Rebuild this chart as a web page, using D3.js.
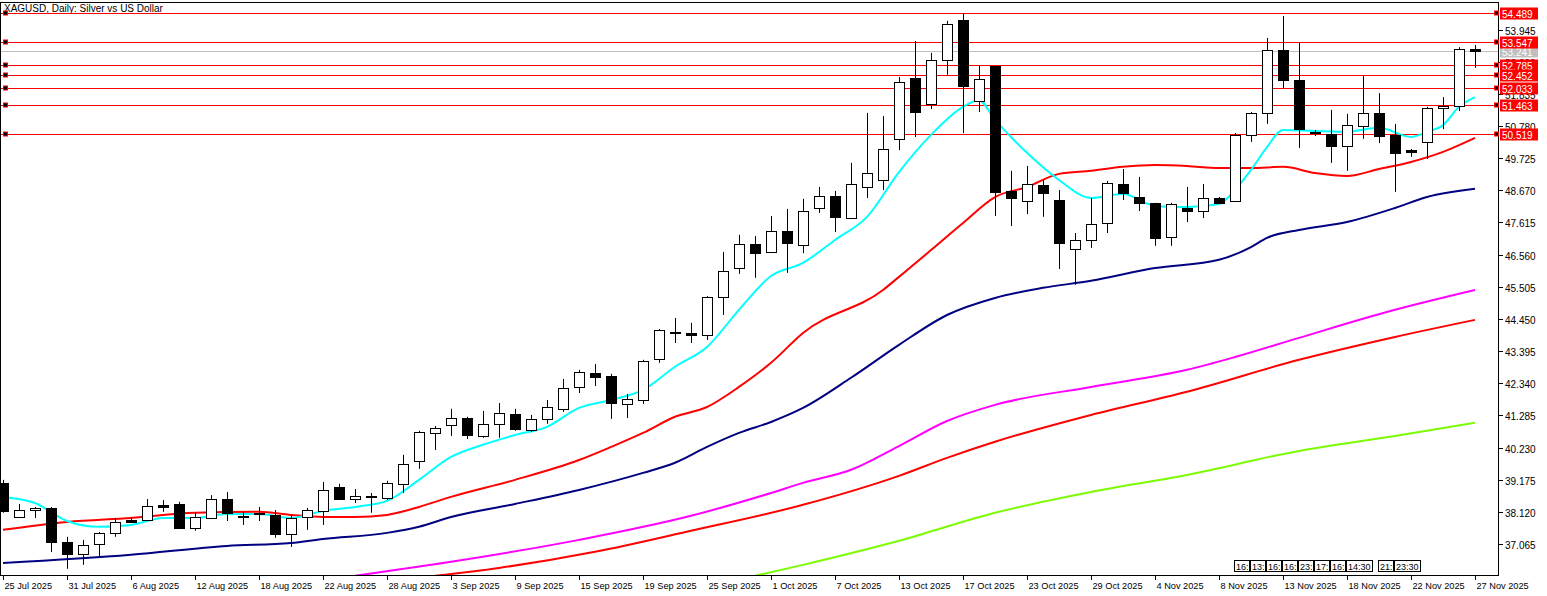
<!DOCTYPE html>
<html><head><meta charset="utf-8">
<script src="https://cdn.jsdelivr.net/npm/d3@7"></script>
<style>body{margin:0;background:#fff}svg{display:block}text{font-family:"Liberation Sans",Arial,sans-serif}</style>
</head><body><svg id="c" width="1547" height="596"></svg>
<script>
// OHLC per daily bar [open, high, low, close]
const ohlc = [
[39.07,39.17,38.09,38.15],[37.95,38.38,37.92,38.18],[38.18,38.28,37.92,38.25],[38.25,38.28,36.80,37.14],
[37.14,37.30,36.25,36.74],[36.74,37.20,36.38,37.04],[37.07,37.46,36.64,37.43],[37.43,37.92,37.30,37.79],
[37.86,37.95,37.79,37.79],[37.86,38.54,37.86,38.32],[38.35,38.51,38.12,38.28],[38.38,38.45,37.56,37.59],
[37.59,38.09,37.50,37.95],[37.92,38.67,37.92,38.54],[38.54,38.77,37.82,38.09],[37.99,38.12,37.69,37.99],
[38.09,38.28,37.82,38.05],[38.02,38.18,37.27,37.40],[37.40,38.02,36.97,37.92],[37.95,38.25,37.53,38.18],
[38.15,39.10,37.69,38.84],[38.94,39.04,38.54,38.54],[38.54,38.87,38.41,38.64],[38.61,38.74,38.09,38.63],
[38.58,39.14,38.51,39.07],[39.04,39.99,38.74,39.69],[39.79,40.78,39.53,40.74],[40.71,40.94,40.15,40.87],
[40.97,41.50,40.61,41.20],[41.20,41.24,40.51,40.64],[40.61,41.43,40.55,41.01],[41.01,41.69,40.55,41.37],
[41.33,41.50,40.78,40.84],[40.81,41.30,40.74,41.17],[41.17,41.79,41.01,41.56],[41.50,42.48,41.40,42.19],
[42.22,42.78,42.02,42.71],[42.68,42.97,42.25,42.55],[42.58,42.65,41.17,41.69],[41.66,41.99,41.20,41.83],
[41.79,43.11,41.66,43.07],[43.14,44.12,43.01,44.09],[44.02,44.48,43.66,44.01],[43.99,44.32,43.66,43.92],
[43.92,45.20,43.76,45.17],[45.17,46.65,44.58,46.03],[46.12,47.21,45.93,46.91],[46.91,47.17,45.80,46.61],
[46.65,47.83,46.65,47.34],[47.34,48.06,45.96,46.94],[46.88,48.39,46.61,47.99],[48.09,48.78,47.93,48.49],
[48.49,48.65,47.30,47.80],[47.76,49.57,47.76,48.88],[48.78,51.21,48.42,49.24],[49.01,51.11,48.68,50.03],
[50.36,52.39,49.99,52.23],[52.36,53.57,50.42,51.24],[51.50,53.18,51.34,52.95],[52.95,54.23,52.46,54.13],
[54.26,54.49,50.55,52.10],[51.60,52.75,51.24,52.32],[52.75,52.76,47.83,48.62],[48.65,49.31,47.50,48.42],
[48.32,49.47,47.89,48.88],[48.85,49.01,47.80,48.58],[48.35,48.68,46.09,46.94],[46.75,47.27,45.57,47.04],
[47.04,48.42,46.78,47.57],[47.60,48.98,47.27,48.91],[48.88,49.37,48.35,48.58],[48.45,49.11,47.99,48.26],
[48.26,48.26,46.85,47.11],[47.14,48.26,46.85,48.22],[48.09,48.78,47.63,47.99],[47.99,48.88,47.76,48.42],
[48.42,48.45,48.26,48.26],[48.32,50.55,48.29,50.49],[50.49,51.24,50.26,51.21],[51.21,53.67,50.85,53.28],
[53.28,54.39,52.03,52.29],[52.29,53.51,50.06,50.68],[50.59,50.65,50.45,50.55],[50.52,51.31,49.57,50.13],
[50.13,51.18,49.31,50.81],[50.78,52.42,50.36,51.21],[51.21,51.86,50.22,50.45],[50.49,50.85,48.62,49.90],
[49.99,50.03,49.77,49.93],[50.26,51.41,49.70,51.37],[51.37,51.73,50.68,51.44],[51.44,53.37,51.27,53.31],
[53.31,53.44,52.69,53.24]];

// Moving averages: [barIndex, value]
const maCyan = [[0,38.61],[2,38.41],[4,37.82],[6,37.63],[8,37.69],[10,37.92],[12,37.92],[14,38.05],[16,38.05],[18,37.92],[20,38.15],[22,38.28],[24,38.48],[26,39.17],[28,39.92],[30,40.32],[32,40.64],[34,40.91],[36,41.53],[38,41.79],[40,42.12],[42,42.88],[44,43.53],[46,44.75],[48,45.86],[50,46.29],[52,47.04],[54,47.80],[56,49.27],[58,50.49],[60,51.41],[61,51.63],[62,50.98],[63,50.42],[64,49.90],[66,49.01],[68,48.42],[70,48.55],[72,48.16],[74,48.12],[76,48.22],[77,48.68],[78,49.34],[79,50.09],[80,50.65],[82,50.62],[84,50.59],[86,50.72],[88,50.42],[89,50.59],[90,50.81],[91,51.41],[92,51.73]];
const maRed = [[0,37.53],[4,37.79],[8,37.92],[12,38.09],[16,38.12],[18,38.02],[20,37.95],[22,37.95],[24,38.02],[26,38.28],[28,38.61],[32,39.17],[36,39.82],[38,40.25],[40,40.71],[42,41.24],[44,41.56],[46,42.22],[48,43.01],[50,43.99],[55,45.40],[56,45.83],[58,46.71],[60,47.60],[62,48.45],[64,48.78],[66,49.21],[68,49.31],[70,49.44],[72,49.50],[74,49.47],[76,49.40],[78,49.40],[80,49.44],[82,49.24],[84,49.14],[86,49.37],[88,49.60],[90,49.93],[92,50.39]];
const maNavy = [[0,36.44],[8,36.71],[14,37.00],[18,37.10],[20,37.23],[24,37.43],[26,37.63],[28,37.95],[32,38.38],[36,38.84],[40,39.40],[42,39.73],[44,40.25],[46,40.71],[48,41.07],[50,41.53],[53,42.52],[56,43.60],[59,44.58],[62,45.14],[65,45.47],[68,45.70],[72,46.12],[76,46.39],[78,46.81],[79,47.11],[81,47.37],[84,47.63],[87,48.09],[89,48.45],[92,48.72]];
const maMagenta = [[22,36.02],[28,36.48],[36,37.20],[43,37.99],[48,38.74],[50,39.07],[53,39.50],[56,40.28],[59,41.10],[62,41.63],[68,42.22],[74,42.78],[77,43.20],[81,43.83],[87,44.75],[92,45.40]];
const maRed2 = [[27,36.02],[31,36.28],[37,36.81],[43,37.50],[50,38.35],[56,39.30],[59,39.89],[62,40.42],[68,41.30],[74,42.06],[81,43.11],[87,43.86],[92,44.42]];
const maGreen = [[47,36.02],[50,36.38],[56,37.17],[62,38.09],[68,38.77],[74,39.33],[81,40.12],[87,40.61],[92,41.04]];

const levels = [54.489,53.547,52.785,52.452,52.033,51.463,50.519];
const lastPrice = 53.241;
const priceTicks = [53.945,52.890,51.835,50.780,49.725,48.670,47.615,46.560,45.505,44.450,43.395,42.340,41.285,40.230,39.175,38.120,37.065];
const dateLabels = ["25 Jul 2025","31 Jul 2025","6 Aug 2025","12 Aug 2025","18 Aug 2025","22 Aug 2025","28 Aug 2025","3 Sep 2025","9 Sep 2025","15 Sep 2025","19 Sep 2025","25 Sep 2025","1 Oct 2025","7 Oct 2025","13 Oct 2025","17 Oct 2025","23 Oct 2025","29 Oct 2025","4 Nov 2025","8 Nov 2025","13 Nov 2025","18 Nov 2025","22 Nov 2025","27 Nov 2025"];
const eventLabels = ["16:","13:","16:","16:","23:","17:","16:","14:30","21:","23:30"];
const eventBars = [77,78,79,80,81,82,83,84,86,87];

const svg = d3.select("#c");
const L=0, R=1499, T=2, B=575;
const x = d3.scaleLinear().domain([0,92]).range([3,1475]);
const y = d3.scaleLinear().domain([54.489,37.065]).range([13,544]);
const px = v => Math.round(x(v))+0.5, py = v => Math.round(y(v))+0.5;

svg.append("text").attr("x",4).attr("y",12).attr("font-size",10).text("XAGUSD, Daily:  Silver vs US Dollar");

const plot = svg.append("g");
svg.append("clipPath").attr("id","clip").append("rect").attr("x",L).attr("y",T).attr("width",R-L).attr("height",B-T);
plot.attr("clip-path","url(#clip)");

plot.selectAll(".lv").data(levels).join("line").attr("x1",L).attr("x2",R).attr("y1",d=>py(d)).attr("y2",d=>py(d)).attr("stroke","#ff0000").attr("stroke-width",1);
plot.append("line").attr("x1",L).attr("x2",R).attr("y1",py(lastPrice)).attr("y2",py(lastPrice)).attr("stroke","#c0c0c0");

const line = d3.line().x(d=>x(d[0])).y(d=>y(d[1])).curve(d3.curveMonotoneX);
[[maGreen,"#7cfc00"],[maRed2,"#ff0000"],[maMagenta,"#ff00ff"],[maNavy,"#000080"],[maRed,"#ff0000"],[maCyan,"#00ffff"]].forEach(([d,c])=>{
  plot.append("path").attr("d",line(d)).attr("fill","none").attr("stroke",c).attr("stroke-width",2);
});

const g = plot.append("g");
ohlc.forEach((d,i)=>{
  const cx = px(i);
  g.append("line").attr("x1",cx).attr("x2",cx).attr("y1",y(d[1])).attr("y2",y(d[2])).attr("stroke","#000").attr("stroke-width",1);
  const top = Math.round(y(Math.max(d[0],d[3]))), bot = Math.round(y(Math.min(d[0],d[3])));
  const bull = d[3] >= d[0];
  g.append("rect").attr("x",cx-5).attr("y",top+0.5).attr("width",10).attr("height",Math.max(1,bot-top))
    .attr("fill",bull?"#fff":"#000").attr("stroke","#000").attr("stroke-width",1);
});

const ev = svg.append("g");
eventLabels.forEach((t,k)=>{
  const xs = Math.round(x(eventBars[k])) - 1;
  const w = t.length>3 ? 26 : 15;
  ev.append("rect").attr("x",xs+0.5).attr("y",560.5).attr("width",w).attr("height",11).attr("fill","#fff").attr("stroke","#000");
  ev.append("text").attr("x",xs+2).attr("y",569.5).attr("font-size",9).text(t);
});

svg.append("rect").attr("x",L+0.5).attr("y",T+0.5).attr("width",R-L-1).attr("height",B-T).attr("fill","none").attr("stroke","#000");

const ax = svg.append("g");
priceTicks.forEach(p=>{
  ax.append("line").attr("x1",R).attr("x2",R+4).attr("y1",py(p)).attr("y2",py(p)).attr("stroke","#000");
  ax.append("text").attr("x",R+6).attr("y",py(p)+4).attr("font-size",10).text(p.toFixed(3));
});
ax.append("rect").attr("x",R+1).attr("y",py(lastPrice)-6).attr("width",38).attr("height",12).attr("fill","#c0c0c0");
ax.append("text").attr("x",R+3).attr("y",py(lastPrice)+4).attr("font-size",10).attr("fill","#fff").text(lastPrice.toFixed(3));
levels.forEach(p=>{
  ax.append("rect").attr("x",R+1).attr("y",py(p)-6).attr("width",38).attr("height",12).attr("fill","#ff0000");
  ax.append("text").attr("x",R+3).attr("y",py(p)+4).attr("font-size",10).attr("fill","#fff").text(p.toFixed(3));
  [R-5,3].forEach(sx=>{
    svg.append("rect").attr("x",sx+0.5).attr("y",py(p)-2.5).attr("width",4).attr("height",4).attr("fill","#000").attr("stroke","#ff0000");
  });
});

dateLabels.forEach((t,k)=>{
  const xx = px(k*4);
  svg.append("line").attr("x1",xx).attr("x2",xx).attr("y1",B).attr("y2",B+5).attr("stroke","#000");
  svg.append("text").attr("x",xx+1).attr("y",589).attr("font-size",9.2).text(t);
});
</script></body></html>
